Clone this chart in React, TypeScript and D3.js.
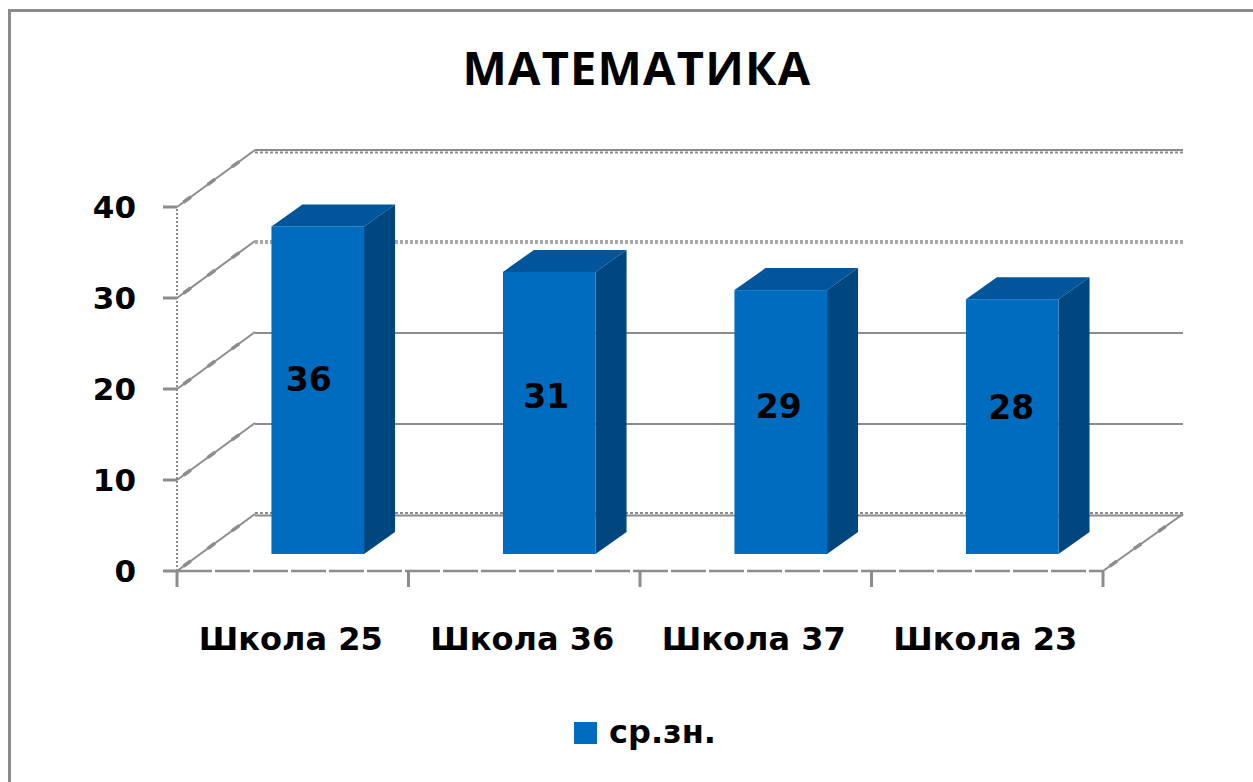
import React from "react";
import { scaleBand, scaleLinear } from "d3";

const width = 1253;
const height = 782;

const schools = ["Школа 25", "Школа 36", "Школа 37", "Школа 23"];
const averages = [36, 31, 29, 28];
const yTicks = [0, 10, 20, 30, 40];

const title = "МАТЕМАТИКА";
const legendLabel = "ср.зн.";

const titleFont = "'Open Sans', 'Noto Sans', sans-serif";
const font = "'DejaVu Sans', sans-serif";
const gridColor = "#8c8c8c";
const front = "#006cbf";
const top = "#00559b";
const side = "#00467f";

// front plane of the chart box
const x0 = 177;
const x1 = 1103;
const y0 = 571;
const y40 = 207;

// how far the back wall sits from the front plane
const wallDx = 78;
const wallDy = -57;
// bars stand a little way into the floor
const floorDx = 25;
const floorDy = -17;
// depth of one bar
const barDx = 31;
const barDy = -22;

// value labels sit off centre in the original, nudges per bar
const labelNudgeX = [-9, -3, -2, -1];
const labelNudgeY = [-11, -17, -16, -19];

// the wall edges are rough stepped lines: thin stroke with thicker blobs on top
const Diagonal = ({ xa, ya, xb, yb }: { xa: number; ya: number; xb: number; yb: number }) => (
  <g stroke={gridColor}>
    <line x1={xa} x2={xb} y1={ya} y2={yb} strokeWidth={2} />
    <line x1={xa} x2={xb} y1={ya} y2={yb} strokeWidth={3.5} strokeDasharray="9 21" strokeDashoffset={-8} />
  </g>
);

const App = () => {
  const xScale = scaleBand<string>().domain(schools).range([x0, x1]).paddingInner(0.6).paddingOuter(0.3);
  const band = (x1 - x0) / schools.length;
  const yScale = scaleLinear().domain([0, 40]).range([y0, y40]);

  const ticks = schools.map((_, i) => x0 + band * i).concat(x1);

  return (
    <svg
      width={width}
      height={height}
      style={{ position: "absolute", left: 0, top: 0, background: "#fff" }}
    >
      {/* outer frame, right and bottom fall outside the picture */}
      <rect x={9.5} y={10.5} width={width + 20} height={height + 20} fill="none" stroke={gridColor} strokeWidth={3} />

      {/* back wall gridlines + side wall diagonals */}
      {yTicks.map((t) => {
        const y = yScale(t);
        const wy = y + wallDy;
        const wx = x0 + wallDx;
        const wxEnd = x1 + wallDx + 2;
        return (
          <g key={t} stroke={gridColor}>
            {t === 40 && (
              <>
                <line x1={wx} x2={wxEnd} y1={wy} y2={wy} strokeWidth={2} />
                <line x1={wx} x2={wxEnd} y1={wy + 2.5} y2={wy + 2.5} strokeWidth={2} strokeDasharray="3 2" />
              </>
            )}
            {t === 30 && (
              <line x1={wx} x2={wxEnd} y1={wy + 1} y2={wy + 1} strokeWidth={4} strokeDasharray="3 2" opacity={0.75} />
            )}
            {(t === 10 || t === 20) && (
              <line x1={wx} x2={wxEnd} y1={wy + 1} y2={wy + 1} strokeWidth={2} />
            )}
            {t === 0 && (
              <>
                <line x1={wx} x2={wxEnd} y1={wy + 1.5} y2={wy + 1.5} strokeWidth={2} />
                <line x1={wx} x2={wxEnd} y1={wy - 1} y2={wy - 1} strokeWidth={2} strokeDasharray="3 2" />
              </>
            )}
            <Diagonal xa={x0} ya={y} xb={wx} yb={wy} />
            <line x1={x0 - 14} x2={x0} y1={y} y2={y} strokeWidth={3} />
            <text
              x={x0 - 41}
              y={y}
              dy="0.36em"
              textAnchor="end"
              stroke="none"
              fill="#000"
              fontFamily={font}
              fontWeight={700}
              fontSize={31}
            >
              {t}
            </text>
          </g>
        );
      })}

      {/* left edge, floor */}
      <line x1={x0} x2={x0} y1={y0} y2={y40} stroke={gridColor} strokeWidth={2} strokeDasharray="2 2" />
      <Diagonal xa={x1} ya={y0} xb={x1 + wallDx + 2} yb={y0 + wallDy} />
      <line x1={x0} x2={x1} y1={y0} y2={y0} stroke={gridColor} strokeWidth={2.5} strokeDasharray="35 3" />
      {ticks.map((t) => (
        <line key={t} x1={t} x2={t} y1={y0} y2={y0 + 16} stroke={gridColor} strokeWidth={3} />
      ))}

      {/* bars */}
      {schools.map((s, i) => {
        const bx = xScale(s)! + floorDx;
        const bw = xScale.bandwidth();
        const by = yScale(averages[i]) + floorDy;
        const base = y0 + floorDy;
        return (
          <g key={s}>
            <path
              d={`M${bx},${by}L${bx + barDx},${by + barDy}L${bx + bw + barDx},${by + barDy}L${bx + bw},${by}Z`}
              fill={top}
            />
            <path
              d={`M${bx + bw},${by}L${bx + bw + barDx},${by + barDy}L${bx + bw + barDx},${base + barDy}L${bx + bw},${base}Z`}
              fill={side}
            />
            <rect x={bx} y={by} width={bw} height={base - by} fill={front} />
            <text
              x={bx + bw / 2 + labelNudgeX[i]}
              y={(by + base) / 2 + labelNudgeY[i]}
              dy="0.36em"
              textAnchor="middle"
              fontFamily={font}
              fontWeight={700}
              fontSize={33}
              fill="#000"
            >
              {averages[i]}
            </text>
          </g>
        );
      })}

      {/* category labels */}
      {schools.map((s, i) => (
        <text
          key={s}
          x={x0 + band * i + band / 2 - 2}
          y={638}
          dy="0.36em"
          textAnchor="middle"
          fontFamily={font}
          fontWeight={700}
          fontSize={32}
          fill="#000"
        >
          {s}
        </text>
      ))}

      <text
        x={637}
        y={68}
        dy="0.36em"
        textAnchor="middle"
        fontFamily={titleFont}
        fontWeight={700}
        fontSize={47}
        letterSpacing={1.2}
        fill="#000"
      >
        {title}
      </text>

      {/* legend */}
      <rect x={574} y={722} width={23} height={22} fill={front} />
      <text x={609} y={743} fontFamily={font} fontWeight={700} fontSize={32} fill="#000">
        {legendLabel}
      </text>
    </svg>
  );
};

export default App;
